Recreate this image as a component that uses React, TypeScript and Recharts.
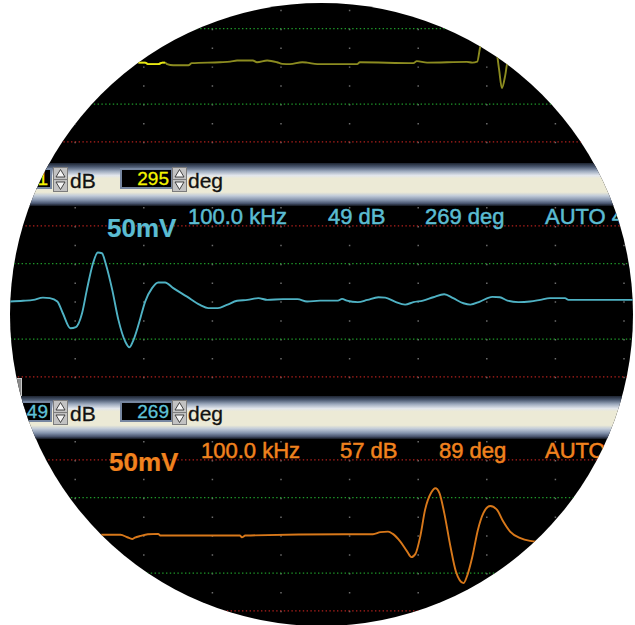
import React from 'react';
import { LineChart, Line, XAxis, YAxis, CartesianGrid, ReferenceLine } from 'recharts';

// time in screen divisions, signal in vertical divisions
const xTicks = [-1, 0, 1, 2, 3, 4, 5, 6, 7, 8, 9];
const yTicks = [-5, -4, -3, -2, -1, 0, 1, 2, 3, 4, 5];

const yellowTime = [1.92, 2.02, 2.06, 2.21, 2.27, 2.31, 2.34, 2.43, 2.65, 2.7, 3.11, 3.26, 3.36, 3.59, 3.65, 3.8, 3.94, 4.02, 4.13, 4.31, 4.38, 4.53, 5.11, 5.15, 5.93, 5.98, 6.13, 6.71, 6.79, 6.86, 6.9, 6.98, 7.05, 7.12, 7.18, 7.22, 7.27, 7.3, 7.41];
const yellowValue = [0.2, 0.2, 0.12, 0.12, 0.2, 0.2, 0.12, 0.06, 0.06, 0.17, 0.22, 0.25, 0.31, 0.31, 0.22, 0.31, 0.22, 0.13, 0.12, 0.22, 0.2, 0.12, 0.12, 0.22, 0.17, 0.28, 0.2, 0.24, 0.2, 0.25, 0.96, 1.94, 2.2, 1.4, -0.19, -1.15, -0.45, 0.17, 0.34];
const yellowBrightCount = 6;

const cyanTime = [0.05, 0.24, 0.39, 0.53, 0.63, 0.74, 0.82, 0.93, 1.01, 1.1, 1.17, 1.26, 1.33, 1.39, 1.45, 1.54, 1.63, 1.73, 1.79, 1.84, 1.93, 2.02, 2.12, 2.21, 2.31, 2.43, 2.63, 2.82, 2.94, 3.08, 3.21, 3.36, 3.51, 3.67, 3.8, 4.03, 4.24, 4.38, 4.57, 4.83, 4.89, 4.96, 5.12, 5.26, 5.42, 5.52, 5.66, 5.81, 5.93, 6.07, 6.22, 6.38, 6.51, 6.66, 6.76, 6.9, 7.08, 7.19, 7.3, 7.46, 7.63, 7.78, 7.92, 8.14, 8.19, 9.16];
const cyanValue = [-0.01, 0.03, 0.08, 0.2, 0.17, -0.01, -0.63, -1.42, -1.36, -0.63, 0.61, 2.02, 2.59, 2.55, 1.93, 0.61, -0.98, -2.13, -2.43, -2.13, -1.15, -0.01, 0.7, 1.0, 1.0, 0.7, 0.25, -0.19, -0.36, -0.36, -0.19, 0.03, 0.08, 0.17, 0.08, 0.12, 0.12, -0.01, 0.04, 0.04, 0.13, 0.04, -0.04, 0.08, 0.22, 0.2, -0.01, -0.17, -0.04, 0.04, 0.22, 0.38, 0.17, -0.1, -0.17, -0.01, 0.24, 0.22, 0.04, -0.04, -0.01, 0.08, 0.17, 0.17, 0.08, 0.08];

const orangeTime = [1.38, 1.66, 1.76, 1.83, 1.87, 1.95, 2.06, 2.21, 2.24, 3.4, 3.43, 3.48, 4.91, 5.34, 5.45, 5.56, 5.63, 5.74, 5.84, 5.9, 5.96, 6.03, 6.1, 6.19, 6.25, 6.31, 6.38, 6.47, 6.55, 6.66, 6.71, 6.79, 6.87, 6.95, 7.05, 7.15, 7.24, 7.34, 7.49, 7.63, 7.73, 7.92];
const orangeValue = [0.03, 0.03, -0.1, -0.19, -0.12, -0.03, 0.06, 0.08, -0.01, -0.01, -0.1, -0.01, 0.06, 0.06, 0.17, 0.2, 0.08, -0.33, -0.86, -1.15, -0.98, -0.06, 1.35, 2.27, 2.5, 2.24, 1.18, -0.59, -1.92, -2.53, -2.18, -1.12, 0.29, 1.18, 1.56, 1.35, 0.73, 0.2, -0.15, -0.29, -0.33, -0.34];

const toolbarValues = [
  { left: '41', right: '295', color: '#f4f400' },
  { left: '49', right: '269', color: '#5fc2d8' },
];
const cyanLabels = ['50mV', '100.0 kHz', '49 dB', '269 deg', 'AUTO 4'];
const orangeLabels = ['50mV', '100.0 kHz', '57 dB', '89 deg', 'AUTO 4'];

const zip = (t: number[], v: number[]) => t.map((x, i) => ({ t: x, v: v[i] }));

const DX = 68.6;
const DY = 18.875;
const X0 = 6.5;
const X_MIN = -1;
const X_MAX = 9.5;
const GREEN = '#1f9a2a';
const RED = '#b3201c';
const FONT = '"Liberation Sans", Arial, sans-serif';

function Channel({ center, lines }: { center: number; lines: { data: { t: number; v: number }[]; color: string }[] }) {
  return (
    <div style={{ position: 'absolute', left: X0 + X_MIN * DX, top: center - 5 * DY }}>
      <LineChart width={(X_MAX - X_MIN) * DX} height={10 * DY} margin={{ top: 0, right: 0, bottom: 0, left: 0 }}>
        <XAxis type="number" dataKey="t" domain={[X_MIN, X_MAX]} ticks={xTicks} hide allowDataOverflow />
        <YAxis type="number" dataKey="v" domain={[-5, 5]} ticks={yTicks} hide allowDataOverflow />
        <CartesianGrid horizontal={false} stroke="#6c6c6c" strokeWidth={1.5} strokeDasharray={`1.5 ${DY - 1.5}`} />
        <ReferenceLine y={4} stroke={RED} strokeWidth={1.4} strokeDasharray="1.4 2.4" />
        <ReferenceLine y={2} stroke={GREEN} strokeWidth={1.4} strokeDasharray="1.4 2.4" />
        <ReferenceLine y={-2} stroke={GREEN} strokeWidth={1.4} strokeDasharray="1.4 2.4" />
        <ReferenceLine y={-4} stroke={RED} strokeWidth={1.4} strokeDasharray="1.4 2.4" />
        {lines.map((l, i) => (
          <Line key={i} data={l.data} dataKey="v" type="monotone" stroke={l.color} strokeWidth={1.9} dot={false} isAnimationActive={false} />
        ))}
      </LineChart>
    </div>
  );
}

function Spinner({ left, top }: { left: number; top: number }) {
  return (
    <svg width={15} height={25} style={{ position: 'absolute', left, top }}>
      <rect x={0.5} y={0.5} width={14} height={24} fill="#c2c2c2" stroke="#7c7c7c" />
      <line x1={1} y1={12.5} x2={14} y2={12.5} stroke="#7c7c7c" />
      <polygon points="7.5,2.5 3,10 12,10" fill="#f4f4f4" stroke="#333" strokeWidth={0.9} />
      <polygon points="3,15 12,15 7.5,22.5" fill="#f4f4f4" stroke="#333" strokeWidth={0.9} />
    </svg>
  );
}

function Toolbar({ top, left, right, color }: { top: number; left: string; right: string; color: string }) {
  const box: React.CSSProperties = {
    position: 'absolute', top: 5, height: 21, boxSizing: 'border-box', background: '#000',
    border: '2px solid #7686a0', color, fontFamily: FONT, fontSize: 19, lineHeight: '17px',
    textAlign: 'right', paddingRight: 2, WebkitTextStroke: '0.3px ' + color,
  };
  const txt: React.CSSProperties = { position: 'absolute', top: 7, fontFamily: FONT, fontSize: 21, lineHeight: '21px', color: '#111', WebkitTextStroke: '0.3px #111' };
  return (
    <div style={{ position: 'absolute', left: 0, top, width: 635, height: 43,
      background: 'linear-gradient(#1c2330 0%, #4c5a72 9%, #9ca9bd 19%, #e2e6ec 29%, #ecead6 36%, #ecead6 68%, #c2ccd9 76%, #8594ad 86%, #4a5670 94%, #12161e 100%)' }}>
      <div style={{ ...box, left: -12, width: 64 }}>{left}</div>
      <Spinner left={53} top={4} />
      <div style={{ ...txt, left: 70 }}>dB</div>
      <div style={{ ...box, left: 120, width: 53 }}>{right}</div>
      <Spinner left={172} top={4} />
      <div style={{ ...txt, left: 188 }}>deg</div>
    </div>
  );
}

function Labels({ top, color, texts, xs }: { top: number; color: string; texts: string[]; xs: number[] }) {
  return (
    <>
      {texts.map((s, i) => (
        <div key={i} style={{ position: 'absolute', left: xs[i], top: i === 0 ? top + 9 : top, whiteSpace: 'nowrap',
          fontFamily: FONT, fontSize: i === 0 ? 26 : 22, lineHeight: i === 0 ? '26px' : '22px',
          fontWeight: i === 0 ? 700 : 400, color, WebkitTextStroke: i === 0 ? '0.2px ' + color : '0.5px ' + color }}>{s}</div>
      ))}
    </>
  );
}

export default function App() {
  const yellow = zip(yellowTime, yellowValue);
  return (
    <div style={{ position: 'absolute', left: 0, top: 0, width: 635, height: 625, background: '#fff', overflow: 'hidden' }}>
      <div style={{ position: 'absolute', left: 0, top: 0, width: 635, height: 625, background: '#000',
        clipPath: 'circle(311.5px at 321.5px 314.5px)', overflow: 'hidden' }}>
        <Channel center={66.5} lines={[
          { data: yellow, color: '#8c8c20' },
          { data: yellow.slice(0, yellowBrightCount), color: '#e8e810' },
        ]} />
        <Channel center={301.5} lines={[{ data: zip(cyanTime, cyanValue), color: '#4fb2c4' }]} />
        <Channel center={535.5} lines={[{ data: zip(orangeTime, orangeValue), color: '#d8781a' }]} />
        <Toolbar top={163} {...toolbarValues[0]} />
        <div style={{ position: 'absolute', left: -5, top: 378, width: 27, height: 18, boxSizing: 'border-box', background: '#8a8a8a', border: '1px solid #c8c8c8' }} />
        <Toolbar top={396} {...toolbarValues[1]} />
        <Labels top={206} color="#5bbcd2" texts={cyanLabels} xs={[107, 188, 328, 425, 545]} />
        <Labels top={440} color="#f0821e" texts={orangeLabels} xs={[109, 201, 340, 439, 545]} />
      </div>
    </div>
  );
}
